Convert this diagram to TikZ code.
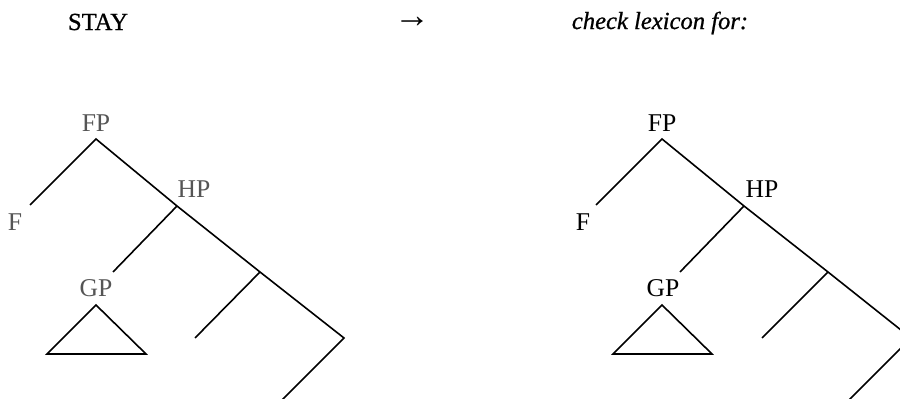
\documentclass[tikz,border=0pt]{standalone}
\usepackage{fontspec}
\setmainfont{Liberation Serif}
\newfontfamily\cabfont[FakeBold=0.8]{Liberation Serif}
\usepackage{tikz}
\usetikzlibrary{positioning,calc}
\definecolor{TreeGray}{RGB}{85,85,85}
\tikzset{
  rotulo/.style={font=\fontsize{12.8}{15}\selectfont, inner sep=0pt, text=black},
  rotulocinza/.style={rotulo, text=TreeGray},
  cabecalho/.style={font=\cabfont\fontsize{12.3}{15}\selectfont, inner sep=0pt},
  ramo/.style={line width=0.8pt, black},
}

\begin{document}
\begin{tikzpicture}[x=0.5pt, y=-0.5pt]

  \clip (0,0) rectangle (900,399);

  % header line
  \node[cabecalho] (stay)  at (98, 22)  {STAY};
  \node[inner sep=0pt,font=\fontsize{18}{18}\selectfont] (seta) at (412, 22) {→};
  \node[cabecalho] (check) at (660, 23) {\itshape check lexicon for:};

  % left tree (gray labels)
  \node[rotulocinza] (fpL) at (96, 123)  {FP};
  \node[rotulocinza] (fL)  at (15, 222)  {F};
  \node[rotulocinza] (hpL) at (194, 189) {HP};
  \node[rotulocinza] (gpL) at (96, 288)  {GP};

  \coordinate (topL)  at (96, 139);
  \coordinate (fendL) at (30, 205);
  \coordinate (hjL)   at (177, 206);
  \coordinate (gendL) at (113, 272);
  \coordinate (j3L)   at (260, 272);
  \coordinate (e3L)   at (195, 338);
  \coordinate (j4L)   at (344, 338);
  \coordinate (e4L)   at (278, 404);
  \coordinate (triL)  at (96, 305);
  \coordinate (triLa) at (47, 354);
  \coordinate (triLb) at (146, 354);

  \draw[ramo] (fendL) -- (topL) -- (hjL) -- (j3L) -- (j4L) -- (e4L);
  \draw[ramo] (hjL) -- (gendL);
  \draw[ramo] (j3L) -- (e3L);
  \draw[ramo] (triL) -- (triLa) -- (triLb) -- cycle;

  % right tree (black labels)
  \node[rotulo] (fpR) at (662, 123)  {FP};
  \node[rotulo] (fR)  at (583, 222)  {F};
  \node[rotulo] (hpR) at (762, 189)  {HP};
  \node[rotulo] (gpR) at (663, 288)  {GP};

  \coordinate (topR)  at (662, 139);
  \coordinate (fendR) at (596, 205);
  \coordinate (hjR)   at (744, 206);
  \coordinate (gendR) at (680, 272);
  \coordinate (j3R)   at (828, 272);
  \coordinate (e3R)   at (762, 338);
  \coordinate (j4R)   at (911, 338);
  \coordinate (e4R)   at (845, 404);
  \coordinate (triR)  at (662, 305);
  \coordinate (triRa) at (613, 354);
  \coordinate (triRb) at (712, 354);

  \draw[ramo] (fendR) -- (topR) -- (hjR) -- (j3R) -- (j4R) -- (e4R);
  \draw[ramo] (hjR) -- (gendR);
  \draw[ramo] (j3R) -- (e3R);
  \draw[ramo] (triR) -- (triRa) -- (triRb) -- cycle;

\end{tikzpicture}
\end{document}
